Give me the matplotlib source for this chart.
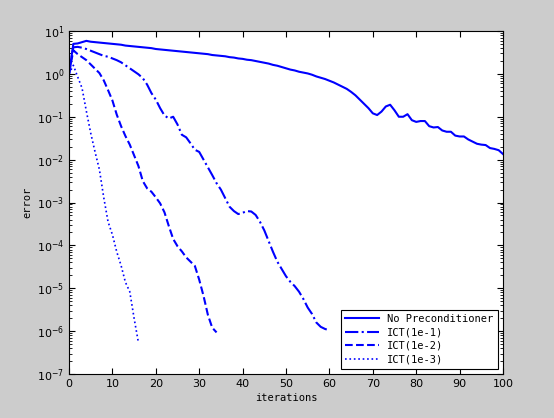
import numpy as np
import matplotlib
matplotlib.use('Agg')
import matplotlib.pyplot as plt

# log10 of the error, one value per iteration
no_precond_log = [0.00, 0.70, 0.71, 0.74, 0.77, 0.75, 0.74, 0.73, 0.72, 0.71,
                  0.70, 0.69, 0.68, 0.66, 0.65, 0.64, 0.63, 0.62, 0.61, 0.60,
                  0.58, 0.57, 0.56, 0.55, 0.54, 0.53, 0.52, 0.51, 0.50, 0.49,
                  0.48, 0.47, 0.46, 0.44, 0.43, 0.42, 0.41, 0.39, 0.38, 0.36,
                  0.35, 0.33, 0.32, 0.30, 0.28, 0.26, 0.24, 0.21, 0.19, 0.16,
                  0.13, 0.10, 0.08, 0.05, 0.03, 0.01, -0.02, -0.06, -0.09, -0.12,
                  -0.16, -0.20, -0.25, -0.30, -0.35, -0.42, -0.50, -0.60, -0.70, -0.80,
                  -0.92, -0.96, -0.88, -0.76, -0.72, -0.85, -1.00, -1.00, -0.94, -1.08,
                  -1.12, -1.10, -1.10, -1.22, -1.25, -1.24, -1.32, -1.35, -1.35, -1.44,
                  -1.46, -1.46, -1.53, -1.58, -1.63, -1.65, -1.66, -1.73, -1.75, -1.78,
                  -1.87]
ict1_log = [0.00, 0.62, 0.63, 0.61, 0.58, 0.54, 0.50, 0.46, 0.42, 0.40,
            0.36, 0.32, 0.27, 0.20, 0.13, 0.06, -0.01, -0.10, -0.25, -0.45,
            -0.60, -0.80, -0.97, -1.04, -1.00, -1.18, -1.42, -1.48, -1.62, -1.77,
            -1.82, -2.00, -2.18, -2.36, -2.55, -2.70, -2.90, -3.10, -3.20, -3.27,
            -3.24, -3.20, -3.21, -3.29, -3.45, -3.65, -3.90, -4.15, -4.38, -4.55,
            -4.72, -4.85, -4.95, -5.08, -5.25, -5.45, -5.60, -5.80, -5.90, -5.95,
            -5.98]
ict2_log = [0.00, 0.55, 0.46, 0.39, 0.32, 0.22, 0.12, 0.02, -0.15, -0.38,
            -0.62, -0.95, -1.22, -1.45, -1.65, -1.90, -2.15, -2.50, -2.67, -2.75,
            -2.88, -3.02, -3.23, -3.55, -3.85, -4.02, -4.14, -4.28, -4.38, -4.48,
            -4.80, -5.18, -5.62, -5.92, -6.03]
ict3_log = [0.00, 0.20, -0.07, -0.33, -0.87, -1.38, -1.82, -2.23, -2.88, -3.45,
            -3.75, -4.15, -4.47, -4.86, -5.08, -5.70, -6.27]

labels = ['No Preconditioner', 'ICT(1e-1)', 'ICT(1e-2)', 'ICT(1e-3)']
styles = ['-', '-.', '--', ':']
series = [no_precond_log, ict1_log, ict2_log, ict3_log]

fig = plt.figure(figsize=(5.54, 4.18), dpi=100, facecolor='#cccccc')
ax = fig.add_axes([69/554, 1-374/418, 434/554, 343/418])

for vals, ls, lab in zip(series, styles, labels):
    it = np.arange(len(vals))
    ax.semilogy(it, 10.0**np.array(vals), ls, color='#0000ff',
                linewidth=1.5 if ls != ':' else 1.2, label=lab)

ax.set_xlim(0, 100)
ax.set_ylim(1e-7, 1e1)
ax.set_xticks(np.arange(0, 101, 10))
ax.set_yticks([10.0**k for k in range(-7, 2)])
ax.tick_params(which='both', direction='in', top=True, right=True,
               labelsize=8, colors='black')
ax.tick_params(which='major', length=4, width=0.8)
ax.tick_params(which='minor', length=2, width=0.6)
for s in ax.spines.values():
    s.set_linewidth(0.8)

mono = 'DejaVu Sans Mono'
ax.set_xlabel('iterations', fontsize=7.5, family=mono, labelpad=3)
ax.set_ylabel('error', fontsize=7.5, family=mono, labelpad=3)

leg = ax.legend(loc='lower right', prop={'family': mono, 'size': 7.5},
                fancybox=False, edgecolor='black', framealpha=1,
                borderaxespad=0.5, handlelength=3.3, labelspacing=0.35,
                borderpad=0.4)
leg.get_frame().set_linewidth(0.8)

fig.savefig('out.png', dpi=100, facecolor=fig.get_facecolor())
